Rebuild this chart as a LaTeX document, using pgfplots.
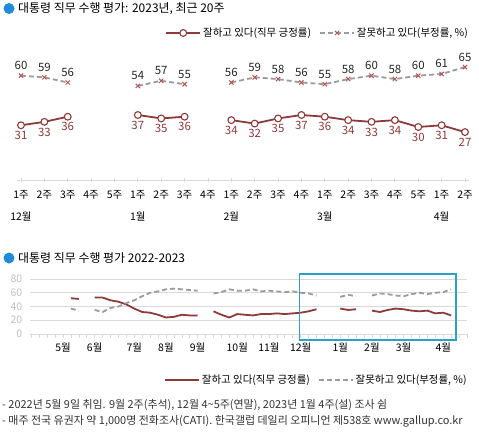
\documentclass[border=0pt]{standalone}
\usepackage{fontspec}
\setmainfont{Noto Sans CJK KR}
\usepackage{pgfplots}
\pgfplotsset{compat=1.18}
\pgfplotsset{/pgf/number format/assume math mode=true}
\definecolor{posc}{RGB}{140,58,58}
\definecolor{negl}{RGB}{155,155,155}
\definecolor{negm}{RGB}{180,85,85}
\definecolor{bulletc}{RGB}{30,140,215}
\definecolor{boxc}{RGB}{45,160,200}
\definecolor{gridc}{RGB}{217,217,217}
\definecolor{ylab}{RGB}{190,190,190}
\definecolor{foot}{RGB}{50,50,50}

\pgfplotstableread{
x pos neg
1 31 60
2 33 59
3 36 56
4 nan nan
5 nan nan
6 37 54
7 35 57
8 36 55
9 nan nan
10 34 56
11 32 59
12 35 58
13 37 56
14 36 55
15 34 58
16 33 60
17 34 58
18 30 60
19 31 61
20 27 65
}\recent

\pgfplotstableread{
x pos neg
1 52 37
2 51 34
3 nan nan
4 53 35
5 53 32
6 49 38
7 47 40
8 43 45
9 37 49
10 32 55
11 31 60
12 28 62
13 24 65
14 25 66
15 28 65
16 27 64
17 27 63
18 nan nan
19 33 59
20 28 61
21 24 65
22 29 63
23 28 63
24 27 65
25 29 62
26 29 63
27 30 62
28 29 61
29 30 62
30 31 60
31 33 59
32 36 56
33 nan nan
34 nan nan
35 37 54
36 35 57
37 36 55
38 nan nan
39 34 56
40 32 59
41 35 58
42 37 56
43 36 55
44 34 58
45 33 60
46 34 58
47 30 60
48 31 61
49 27 65
}\longrun

\begin{document}
\begin{tikzpicture}
\path[use as bounding box] (0bp,0bp) rectangle (479bp,-438bp);

% Title 1
\fill[bulletc] (9bp,-8.5bp) circle (5.5bp);
\node[anchor=west, inner sep=0, font=\fontsize{12}{14.4}\selectfont] at (18bp,-8.5bp) {대통령 직무 수행 평가: 2023년, 최근 20주};

\begin{axis}[
 at={(17.5bp,-180bp)}, anchor=south west,
 scale only axis, width=451bp, height=130bp,
 xmin=0.85, xmax=20.15, ymin=-1, ymax=75,
 axis x line*=bottom, axis y line=none,
 x axis line style={draw=gridc, line width=1},
 xtick={1,...,20},
 xticklabels={{1주\\[9bp]12월},2주,3주,4주,5주,{1주\\[9bp]1월},2주,3주,4주,{1주\\[9bp]2월},2주,3주,4주,{1주\\[9bp]3월},2주,3주,4주,5주,{1주\\[9bp]4월},2주},
 xticklabel style={font=\fontsize{10.5}{12.6}\selectfont, align=center, yshift=-5bp},
 xtick style={draw=gridc, line width=0.8}, tick align=center, major tick length=4bp,
 clip=false, unbounded coords=jump,
 legend columns=2,
 legend cell align=left,
 legend style={at={(1.01,1.131)}, anchor=east, draw=none, fill=none,
   font=\fontsize{10.5}{12.6}\selectfont,
   /tikz/every even column/.append style={column sep=6bp}},
 legend image code/.code={\draw[mark repeat=2,mark phase=2,#1] plot coordinates {(0bp,0bp) (17bp,0bp) (34bp,0bp)};},
]
\addplot[posc, line width=1.8bp, mark=*, mark size=3.4bp,
  mark options={fill=white, draw=posc, line width=1.1bp},
  nodes near coords, nodes near coords align={below},
  every node near coord/.append style={font=\fontsize{11.5}{13}\selectfont, text=posc, yshift=-2bp}]
  table[x=x, y=pos] {\recent};
\addlegendentry{잘하고 있다(직무 긍정률)}
\addplot[negl, line width=1.8bp, dash pattern=on 5bp off 3bp, mark=x, mark size=3bp,
  mark options={solid, draw=negm, line width=1bp},
  nodes near coords, nodes near coords align={above},
  every node near coord/.append style={font=\fontsize{11.5}{13}\selectfont, text=black!85, yshift=2bp}]
  table[x=x, y=neg] {\recent};
\addlegendentry{잘못하고 있다(부정률, \%)}
\end{axis}

% Title 2
\fill[bulletc] (9bp,-258bp) circle (5.5bp);
\node[anchor=west, inner sep=0, font=\fontsize{12}{14.4}\selectfont] at (18bp,-258bp) {대통령 직무 수행 평가 2022-2023};

\begin{axis}[
 at={(29.7bp,-334bp)}, anchor=south west,
 scale only axis, width=437.3bp, height=55bp,
 xmin=-4.2, xmax=51, ymin=0, ymax=80,
 axis x line*=bottom, axis y line*=left,
 y axis line style={draw=none},
 x axis line style={draw=gridc, line width=0.8},
 ytick={0,20,40,60,80}, ytick style={draw=none},
 ymajorgrids, major grid style={gridc, line width=0.8},
 yticklabel style={text=ylab, font=\fontsize{10.5}{12.6}\selectfont},
 xtick={0,4,9,13,17,22,26,30,35,39,43,48},
 xticklabels={5월,6월,7월,8월,9월,10월,11월,12월,1월,2월,3월,4월},
 minor xtick={-4,...,51},
 xticklabel style={font=\fontsize{10.5}{12.6}\selectfont, yshift=-1bp},
 xtick style={draw=gridc, line width=0.6}, tick align=outside,
 major tick length=4bp, minor tick length=4bp,
 clip=false, unbounded coords=jump,
 legend columns=2,
 legend cell align=left,
 legend style={at={(1.011,-0.836)}, anchor=east, draw=none, fill=none,
   font=\fontsize{10.5}{12.6}\selectfont,
   /tikz/every even column/.append style={column sep=6bp}},
 legend image code/.code={\draw[#1] (0bp,0bp) -- (34bp,0bp);},
]
\addplot[posc, line width=1.8bp, no marks] table[x=x, y=pos] {\longrun};
\addlegendentry{잘하고 있다(직무 긍정률)}
\addplot[negl, line width=1.8bp, dash pattern=on 5bp off 3bp, no marks] table[x=x, y=neg] {\longrun};
\addlegendentry{잘못하고 있다(부정률, \%)}
\draw[draw=boxc, line width=1.2bp] (axis cs:29.9,-8.7) rectangle (axis cs:49.6,87.3);
\end{axis}

\node[anchor=west, inner sep=0, text=foot, font=\fontsize{11}{13}\selectfont] at (2bp,-405bp) {- 2022년 5월 9일 취임. 9월 2주(추석), 12월 4\textasciitilde 5주(연말), 2023년 1월 4주(설) 조사 쉼};
\node[anchor=west, inner sep=0, text=foot, font=\fontsize{11}{13}\selectfont] at (2bp,-421bp) {- 매주 전국 유권자 약 1,000명 전화조사(CATI). 한국갤럽 데일리 오피니언 제538호 www.gallup.co.kr};
\end{tikzpicture}
\end{document}
